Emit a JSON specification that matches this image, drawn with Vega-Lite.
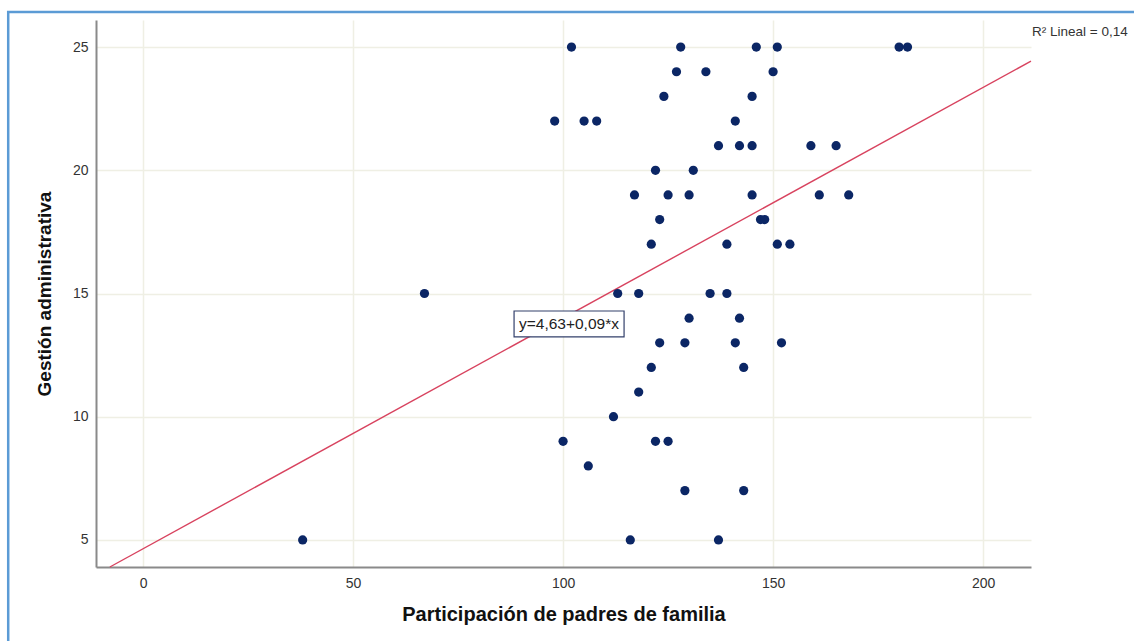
{
  "$schema": "https://vega.github.io/schema/vega-lite/v6.json",
  "width": 935,
  "height": 547,
  "autosize": "none",
  "padding": {"left": 96, "top": 20, "right": 103, "bottom": 74},
  "background": "white",
  "config": {
    "view": {"stroke": null},
    "font": "Liberation Sans",
    "axis": {
      "labelFont": "Liberation Sans",
      "titleFont": "Liberation Sans",
      "labelColor": "#333333",
      "titleColor": "#111111",
      "labelFontSize": 14,
      "titleFontWeight": "bold",
      "domainColor": "#8a8a8a",
      "domainWidth": 2,
      "ticks": false,
      "gridColor": "#efefe4",
      "gridWidth": 1.5
    }
  },
  "datasets": {
    "points": [
      {"participacion": 102, "gestion": 25},
      {"participacion": 128, "gestion": 25},
      {"participacion": 146, "gestion": 25},
      {"participacion": 151, "gestion": 25},
      {"participacion": 180, "gestion": 25},
      {"participacion": 182, "gestion": 25},
      {"participacion": 127, "gestion": 24},
      {"participacion": 134, "gestion": 24},
      {"participacion": 150, "gestion": 24},
      {"participacion": 124, "gestion": 23},
      {"participacion": 145, "gestion": 23},
      {"participacion": 98, "gestion": 22},
      {"participacion": 105, "gestion": 22},
      {"participacion": 108, "gestion": 22},
      {"participacion": 141, "gestion": 22},
      {"participacion": 137, "gestion": 21},
      {"participacion": 142, "gestion": 21},
      {"participacion": 145, "gestion": 21},
      {"participacion": 159, "gestion": 21},
      {"participacion": 165, "gestion": 21},
      {"participacion": 122, "gestion": 20},
      {"participacion": 131, "gestion": 20},
      {"participacion": 117, "gestion": 19},
      {"participacion": 125, "gestion": 19},
      {"participacion": 130, "gestion": 19},
      {"participacion": 145, "gestion": 19},
      {"participacion": 161, "gestion": 19},
      {"participacion": 168, "gestion": 19},
      {"participacion": 123, "gestion": 18},
      {"participacion": 147, "gestion": 18},
      {"participacion": 148, "gestion": 18},
      {"participacion": 121, "gestion": 17},
      {"participacion": 139, "gestion": 17},
      {"participacion": 151, "gestion": 17},
      {"participacion": 154, "gestion": 17},
      {"participacion": 67, "gestion": 15},
      {"participacion": 113, "gestion": 15},
      {"participacion": 118, "gestion": 15},
      {"participacion": 135, "gestion": 15},
      {"participacion": 139, "gestion": 15},
      {"participacion": 130, "gestion": 14},
      {"participacion": 142, "gestion": 14},
      {"participacion": 123, "gestion": 13},
      {"participacion": 129, "gestion": 13},
      {"participacion": 141, "gestion": 13},
      {"participacion": 152, "gestion": 13},
      {"participacion": 121, "gestion": 12},
      {"participacion": 143, "gestion": 12},
      {"participacion": 118, "gestion": 11},
      {"participacion": 112, "gestion": 10},
      {"participacion": 100, "gestion": 9},
      {"participacion": 122, "gestion": 9},
      {"participacion": 125, "gestion": 9},
      {"participacion": 106, "gestion": 8},
      {"participacion": 129, "gestion": 7},
      {"participacion": 143, "gestion": 7},
      {"participacion": 38, "gestion": 5},
      {"participacion": 116, "gestion": 5},
      {"participacion": 137, "gestion": 5}
    ],
    "fit": [
      {"participacion": -7.9, "gestion": 3.9},
      {"participacion": 211.4, "gestion": 24.43}
    ],
    "one": [{}]
  },
  "layer": [
    {
      "data": {"name": "one"},
      "mark": {"type": "rect", "fill": null, "fillOpacity": 0, "stroke": "#5b9bd5", "strokeWidth": 2.5},
      "encoding": {
        "x": {"datum": -32.1, "type": "quantitative", "scale": {"domain": [-11.2, 211.4], "nice": false, "zero": false}},
        "x2": {"datum": 300},
        "y": {"datum": 26.42, "type": "quantitative", "scale": {"domain": [3.9, 26.1], "nice": false, "zero": false}},
        "y2": {"datum": -5}
      }
    },
    {
      "data": {"name": "fit"},
      "mark": {"type": "line", "color": "#d8435f", "strokeWidth": 1.4},
      "encoding": {
        "x": {"field": "participacion", "type": "quantitative"},
        "y": {"field": "gestion", "type": "quantitative"}
      }
    },
    {
      "data": {"name": "points"},
      "mark": {"type": "point", "filled": true, "shape": "circle", "size": 85, "color": "#0b2665", "opacity": 1},
      "encoding": {
        "x": {
          "field": "participacion",
          "type": "quantitative",
          "scale": {"domain": [-11.2, 211.4], "nice": false, "zero": false},
          "axis": {
            "values": [0, 50, 100, 150, 200],
            "title": "Participación de padres de familia",
            "titleFontSize": 20,
            "titlePadding": 14,
            "labelPadding": 9,
            "grid": true
          }
        },
        "y": {
          "field": "gestion",
          "type": "quantitative",
          "scale": {"domain": [3.9, 26.1], "nice": false, "zero": false},
          "axis": {
            "values": [5, 10, 15, 20, 25],
            "title": "Gestión administrativa",
            "titleFontSize": 19,
            "titlePadding": 18,
            "labelPadding": 8,
            "grid": true
          }
        }
      }
    },
    {
      "data": {"name": "one"},
      "mark": {"type": "rect", "fill": "white", "stroke": "#33406b", "strokeWidth": 1.2},
      "encoding": {
        "x": {"datum": 88.33, "type": "quantitative"},
        "x2": {"datum": 114.52},
        "y": {"datum": 14.29, "type": "quantitative"},
        "y2": {"datum": 13.24}
      }
    },
    {
      "data": {"name": "one"},
      "mark": {"type": "text", "text": "y=4,63+0,09*x", "fontSize": 15.5, "font": "Liberation Sans", "color": "#222222", "align": "center", "baseline": "middle"},
      "encoding": {
        "x": {"datum": 101.4, "type": "quantitative"},
        "y": {"datum": 13.77, "type": "quantitative"}
      }
    },
    {
      "data": {"name": "one"},
      "mark": {"type": "text", "text": "R² Lineal = 0,14", "fontSize": 13.5, "font": "Liberation Sans", "color": "#333333", "align": "left", "baseline": "middle", "dx": 1},
      "encoding": {
        "x": {"datum": 211.4, "type": "quantitative"},
        "y": {"datum": 25.63, "type": "quantitative"}
      }
    }
  ]
}
